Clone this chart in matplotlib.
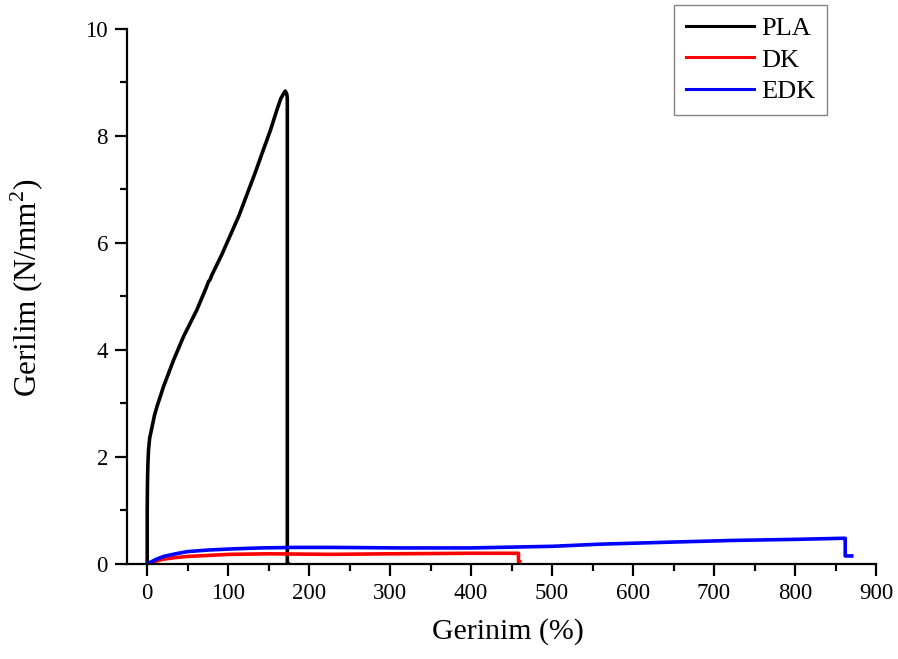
import numpy as np
import matplotlib
matplotlib.use("Agg")
import matplotlib.pyplot as plt
from matplotlib.ticker import MultipleLocator

plt.rcParams['font.family'] = ['Liberation Serif', 'DejaVu Serif']
plt.rcParams['mathtext.fontset'] = 'custom'
plt.rcParams['mathtext.rm'] = 'Liberation Serif'

# PLA curve
pla_x = [0, 0, 0.3, 0.8, 1.6, 3, 5.8, 9, 12, 20, 32.5, 44.8, 61.3, 73,
         75.7, 77.5, 79.8, 92, 102.5, 113, 123, 133, 143.6, 152, 160, 165,
         168.3, 170.5, 172.4, 173, 173, 174]
pla_y = [0, 1.0, 1.51, 1.85, 2.13, 2.35, 2.55, 2.78, 2.94, 3.31, 3.81, 4.25,
         4.75, 5.17, 5.28, 5.31, 5.4, 5.78, 6.14, 6.5, 6.9, 7.3, 7.75, 8.1,
         8.48, 8.7, 8.79, 8.84, 8.78, 8.7, 0.0, 0.0]

# DK curve
dk_x = [0, 10, 20, 35, 49, 75, 102, 150, 226, 300, 400, 455, 458.5,
        458.5, 460]
dk_y = [0, 0.05, 0.09, 0.12, 0.14, 0.16, 0.18, 0.19, 0.18, 0.19, 0.2, 0.2,
        0.2, 0.04, 0.04]

# EDK curve
edk_x = [0, 10, 20, 35, 49, 75, 102, 140, 185, 226, 312, 400, 500, 559,
         650, 723, 800, 859, 862, 862, 870]
edk_y = [0, 0.08, 0.14, 0.19, 0.23, 0.26, 0.28, 0.3, 0.31, 0.31, 0.3, 0.3,
         0.33, 0.37, 0.41, 0.44, 0.46, 0.48, 0.48, 0.15, 0.15]

fig = plt.figure(figsize=(8.98, 6.59), dpi=100)
ax = fig.add_axes([0.1414, 0.1442, 0.8341, 0.8118])

ax.plot(pla_x, pla_y, color='black', lw=2.6, label='PLA')
ax.plot(dk_x, dk_y, color='#ff0000', lw=2.6, label='DK')
ax.plot(edk_x, edk_y, color='#0000ff', lw=2.6, label='EDK')

ax.set_xlim(-25, 900)
ax.set_ylim(0, 10)
ax.xaxis.set_major_locator(MultipleLocator(100))
ax.xaxis.set_minor_locator(MultipleLocator(50))
ax.yaxis.set_major_locator(MultipleLocator(2))
ax.yaxis.set_minor_locator(MultipleLocator(1))

for s in ['top', 'right']:
    ax.spines[s].set_visible(False)
for s in ['left', 'bottom']:
    ax.spines[s].set_linewidth(1.6)
ax.tick_params(which='major', direction='out', length=8.7, width=1.6,
               labelsize=16.5, pad=5)
ax.tick_params(which='minor', direction='out', length=5, width=1.6)

ax.set_xlabel('Gerinim (%)', fontsize=21.5)
ax.set_ylabel('Gerilim (N/mm$^2$)', fontsize=22.5)
ax.xaxis.set_label_coords(0.509, -0.102)
ax.yaxis.set_label_coords(-0.108, 0.517)

leg = ax.legend(loc='upper right', bbox_to_anchor=(0.9346, 1.045),
                borderaxespad=0, fontsize=19, frameon=True, fancybox=False,
                handlelength=2.6, borderpad=0.45, labelspacing=0.3,
                handletextpad=0.25)
leg.get_frame().set_edgecolor('#666666')
leg.get_frame().set_linewidth(1.0)
for h in leg.get_lines():
    h.set_linewidth(2.2)

fig.savefig('out.png', dpi=100)
